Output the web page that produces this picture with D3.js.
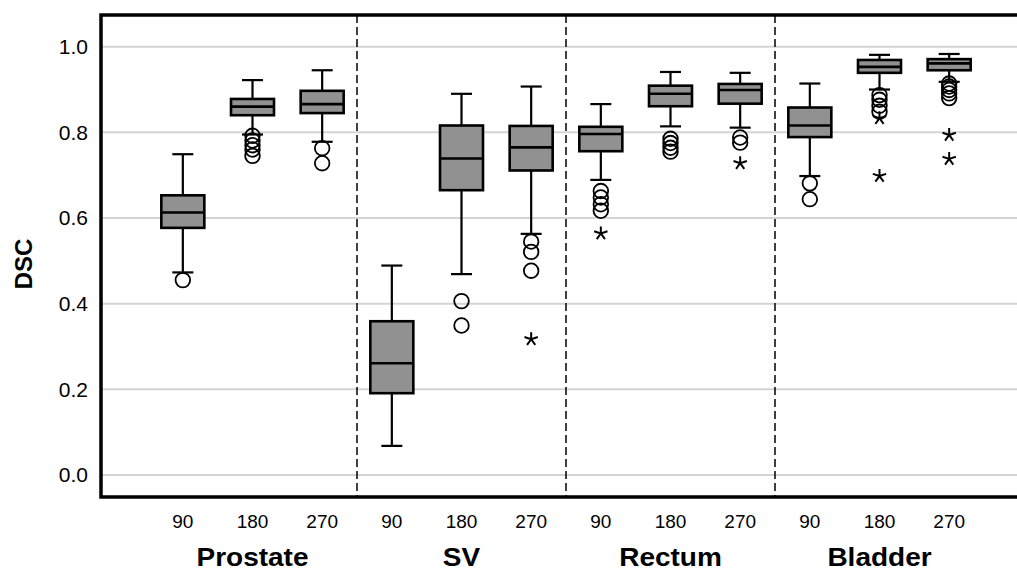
<!DOCTYPE html>
<html lang="en">
<head>
<meta charset="UTF-8">
<title>DSC box plots</title>
<script src="https://d3js.org/d3.v7.min.js"></script>
<style>
  * { margin: 0; padding: 0; }
  body { background: #fff; width: 1017px; height: 572px; overflow: hidden; }
  text { font-family: "Liberation Sans", Arial, sans-serif; fill: #000; }
  .grid line { stroke: #d4d4d4; stroke-width: 2; }
  .box { fill: #919191; stroke: #000; stroke-width: 2.6; }
  .whisker { stroke: #000; stroke-width: 2.2; }
  .outlier { fill: none; stroke: #000; stroke-width: 1.8; }
  .extreme { fill: none; stroke: #000; stroke-width: 2; }
</style>
</head>
<body>
<svg id="chart" width="1017" height="572"></svg>
<script>
// organs and time points
const groups = ["Prostate", "SV", "Rectum", "Bladder"];
const times = ["90", "180", "270"];
const yTicks = [0.0, 0.2, 0.4, 0.6, 0.8, 1.0];

// box statistics, ordered Prostate 90/180/270, SV ..., Rectum ..., Bladder ...
const whiskerLow  = [0.473, 0.795, 0.778, 0.068, 0.469, 0.563, 0.689, 0.814, 0.811, 0.698, 0.900, 0.918];
const q1          = [0.577, 0.840, 0.845, 0.191, 0.665, 0.711, 0.756, 0.861, 0.867, 0.789, 0.939, 0.945];
const median      = [0.613, 0.860, 0.866, 0.261, 0.739, 0.765, 0.796, 0.890, 0.899, 0.816, 0.953, 0.961];
const q3          = [0.653, 0.878, 0.897, 0.359, 0.816, 0.815, 0.813, 0.909, 0.913, 0.858, 0.969, 0.971];
const whiskerHigh = [0.749, 0.922, 0.945, 0.489, 0.890, 0.907, 0.866, 0.941, 0.939, 0.914, 0.981, 0.983];

// circles (outliers) and stars (extremes)
const outliers = [
  [0.455],
  [0.792, 0.781, 0.770, 0.760, 0.745],
  [0.763, 0.728],
  [],
  [0.406, 0.349],
  [0.545, 0.521, 0.477],
  [0.663, 0.648, 0.632, 0.617],
  [0.785, 0.775, 0.764, 0.755],
  [0.788, 0.776],
  [0.681, 0.644],
  [0.887, 0.876, 0.862, 0.848],
  [0.914, 0.907, 0.899, 0.891, 0.880]
];
const extremes = [
  [], [], [], [], [],
  [0.317],
  [0.564],
  [],
  [0.728],
  [],
  [0.833, 0.698],
  [0.794, 0.738]
];

const svg = d3.select("#chart");
const frame = { left: 101, top: 15, bottom: 497, right: 1030 };

const y = d3.scaleLinear().domain([0, 1]).range([475, 46.7]);
const xGroup = d3.scaleBand().domain(groups).range([148, 984]);
const xTime = d3.scalePoint().domain(times).range([0, xGroup.bandwidth()]).padding(0.5);

const items = [];
groups.forEach((g, gi) => times.forEach((t, ti) => {
  const i = gi * times.length + ti;
  items.push({
    g, t, cx: xGroup(g) + xTime(t),
    lo: whiskerLow[i], q1: q1[i], med: median[i], q3: q3[i], hi: whiskerHigh[i],
    out: outliers[i], ext: extremes[i]
  });
}));

// grid
svg.append("g").attr("class", "grid")
  .selectAll("line").data(yTicks).join("line")
  .attr("x1", frame.left).attr("x2", frame.right)
  .attr("y1", d => y(d)).attr("y2", d => y(d));

// dashed group separators
svg.append("g").selectAll("line").data(groups.slice(1)).join("line")
  .attr("x1", d => xGroup(d)).attr("x2", d => xGroup(d))
  .attr("y1", frame.top).attr("y2", frame.bottom)
  .attr("stroke", "#000").attr("stroke-width", 1.5)
  .attr("stroke-dasharray", "8,4");

const boxW = 43, capW = 21;
const star = (r) => {
  let p = "";
  for (let k = 0; k < 5; k++) {
    const a = (-90 + k * 72) * Math.PI / 180;
    p += `M0,0L${(r * Math.cos(a)).toFixed(2)},${(r * Math.sin(a)).toFixed(2)}`;
  }
  return p;
};

const bx = svg.append("g").selectAll("g").data(items).join("g");

// whiskers
bx.append("line").attr("class", "whisker")
  .attr("x1", d => d.cx).attr("x2", d => d.cx)
  .attr("y1", d => y(d.hi)).attr("y2", d => y(d.lo));
bx.append("line").attr("class", "whisker")
  .attr("x1", d => d.cx - capW / 2).attr("x2", d => d.cx + capW / 2)
  .attr("y1", d => y(d.hi)).attr("y2", d => y(d.hi));
bx.append("line").attr("class", "whisker")
  .attr("x1", d => d.cx - capW / 2).attr("x2", d => d.cx + capW / 2)
  .attr("y1", d => y(d.lo)).attr("y2", d => y(d.lo));

// boxes
bx.append("rect").attr("class", "box")
  .attr("x", d => d.cx - boxW / 2).attr("width", boxW)
  .attr("y", d => y(d.q3)).attr("height", d => y(d.q1) - y(d.q3));
bx.append("line").attr("stroke", "#000").attr("stroke-width", 2.6)
  .attr("x1", d => d.cx - boxW / 2).attr("x2", d => d.cx + boxW / 2)
  .attr("y1", d => y(d.med)).attr("y2", d => y(d.med));

// outliers
bx.each(function (d) {
  const g = d3.select(this);
  g.selectAll("circle").data(d.out).join("circle").attr("class", "outlier")
    .attr("cx", d.cx).attr("cy", v => y(v)).attr("r", 7.3);
  g.selectAll("path.extreme").data(d.ext).join("path").attr("class", "extreme")
    .attr("d", star(7))
    .attr("transform", v => `translate(${d.cx},${y(v)})`);
});

// frame (right side runs off the page)
svg.append("path")
  .attr("d", `M${frame.right},${frame.top}H${frame.left}V${frame.bottom}H${frame.right}`)
  .attr("fill", "none").attr("stroke", "#000").attr("stroke-width", 3.5);

// y tick labels
svg.append("g").selectAll("text").data(yTicks).join("text")
  .attr("x", 88).attr("y", d => y(d)).attr("dy", "0.35em")
  .attr("text-anchor", "end").attr("font-size", 21)
  .text(d => d.toFixed(1));

// x tick labels
svg.append("g").selectAll("text").data(items).join("text")
  .attr("x", d => d.cx).attr("y", 528)
  .attr("text-anchor", "middle").attr("font-size", 19)
  .text(d => d.t);

// group labels (slightly wide, like the original)
svg.append("g").selectAll("text").data(groups).join("text")
  .attr("transform", d => `translate(${xGroup(d) + xGroup.bandwidth() / 2},566) scale(1.12,1)`)
  .attr("text-anchor", "middle").attr("font-size", 25).attr("font-weight", "bold")
  .text(d => d);

// y axis title
svg.append("text")
  .attr("transform", "translate(32,264) rotate(-90)")
  .attr("text-anchor", "middle").attr("font-size", 24).attr("font-weight", "bold")
  .text("DSC");
</script>
</body>
</html>
